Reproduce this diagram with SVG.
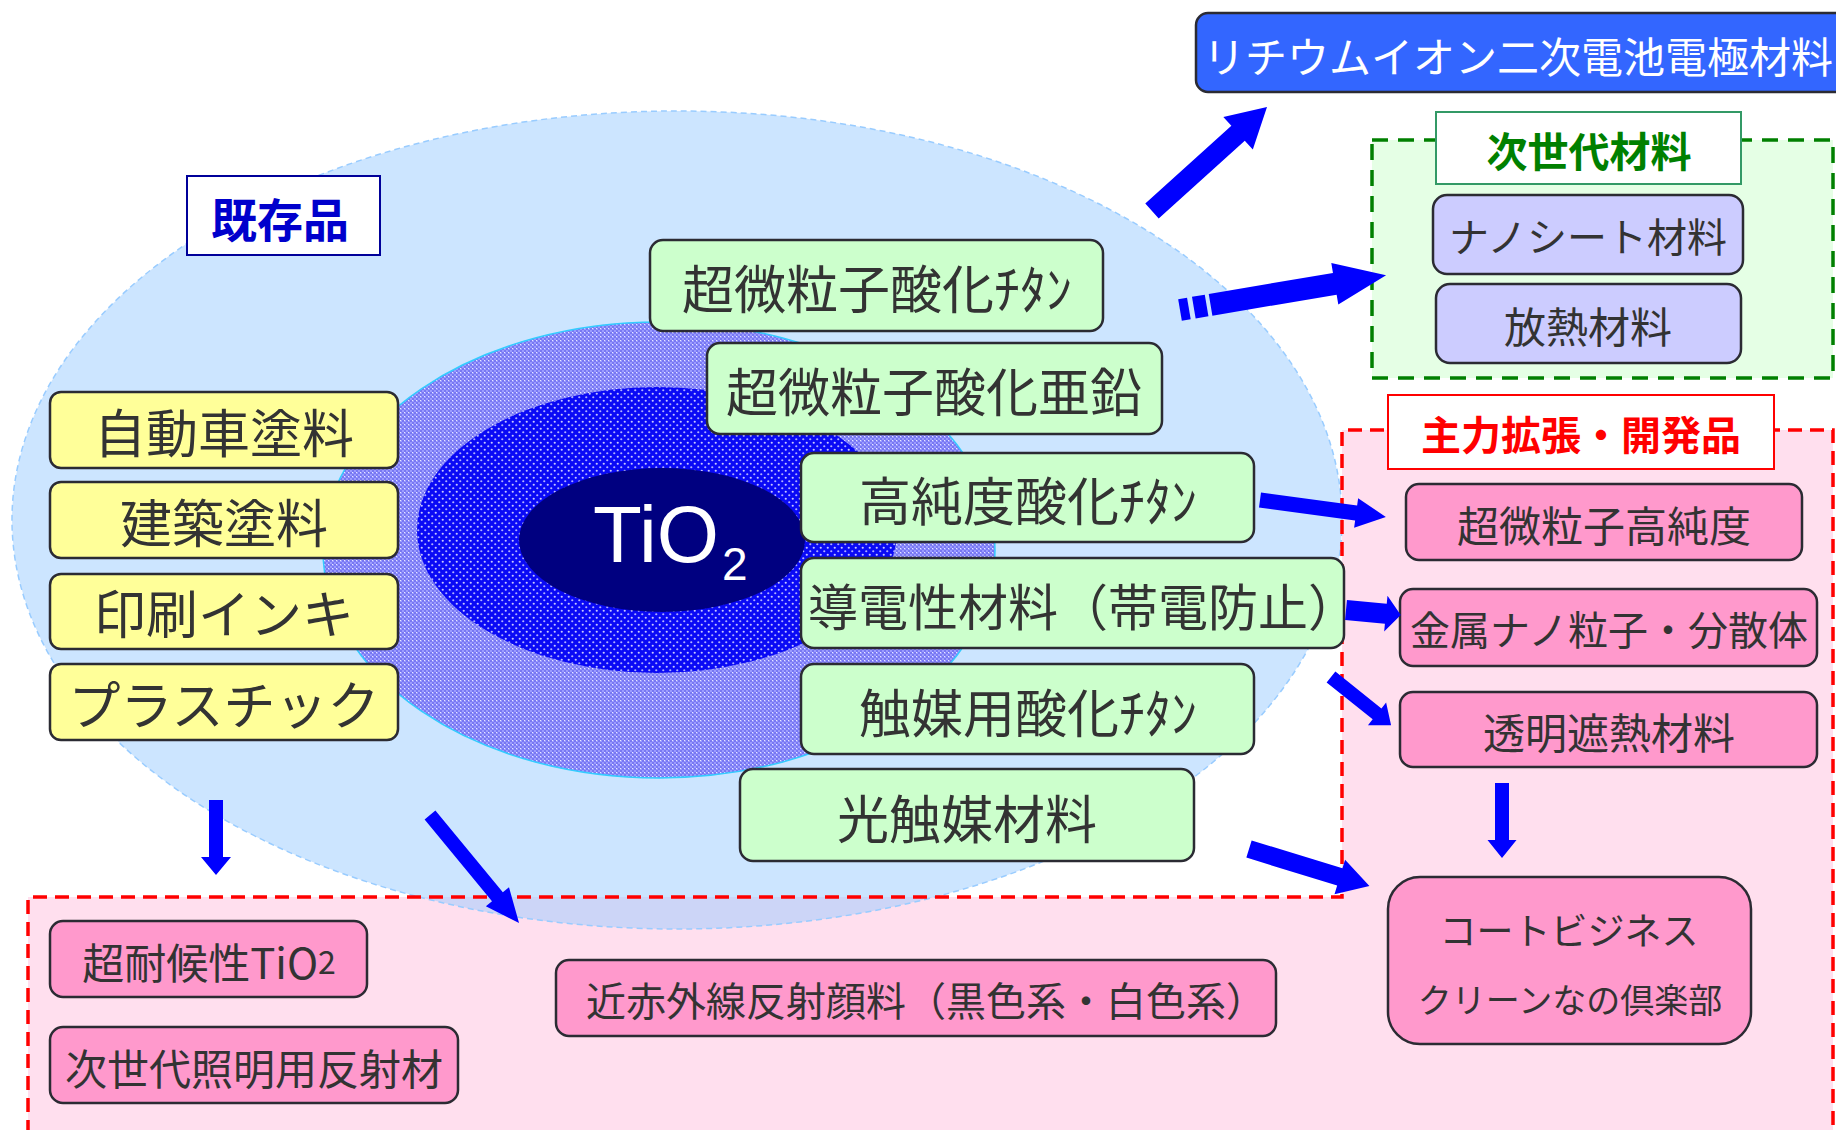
<svg xmlns="http://www.w3.org/2000/svg" width="1836" height="1130" viewBox="0 0 1836 1130">
<defs>
<pattern id="hatchMid" x="0" y="0" width="4" height="4" patternUnits="userSpaceOnUse">
<rect width="4" height="4" fill="#7878f2"/>
<rect x="0" y="0" width="2" height="2" fill="#9c9cff"/>
<rect x="2" y="2" width="2" height="2" fill="#9c9cff"/>
<rect x="0" y="0" width="1" height="1" fill="#e8e8ff"/>
</pattern>
<pattern id="dotsIn" x="0" y="0" width="7" height="7" patternUnits="userSpaceOnUse">
<rect width="7" height="7" fill="#0a0af5"/>
<circle cx="1.75" cy="1.75" r="1.1" fill="#c8c8ff"/>
<circle cx="5.25" cy="5.25" r="1.1" fill="#b0b0ff"/>
</pattern>
<style>
.jp{font-family:"Noto Sans CJK JP","Noto Sans CJK SC",sans-serif;}
.t{fill:#333333;text-anchor:middle;dominant-baseline:central;}
.box{stroke:#2b2b33;stroke-width:2.5;}
.yel{fill:#ffff99;}
.grn{fill:#ccffcc;}
.pnk{fill:#ff99cc;}
.lav{fill:#ccccff;}
.arw{fill:#0000ff;}
</style>
</defs>

<!-- background regions -->
<g id="region-development">
<polygon points="1342,430 1833,430 1833,1134 28,1134 28,897 1342,897" fill="#ffdfee"/>
</g>
<g id="region-existing">
<ellipse cx="677" cy="520" rx="665" ry="409" fill="#99ccff" fill-opacity="0.5" stroke="#99ccff" stroke-width="1.5" stroke-dasharray="6 4"/>
</g>
<g id="core">
<ellipse cx="659" cy="550" rx="336" ry="228" fill="url(#hatchMid)" stroke="#33ccff" stroke-width="1.5"/>
<ellipse cx="657" cy="530" rx="240" ry="143" fill="url(#dotsIn)"/>
<ellipse cx="662" cy="540" rx="143" ry="72" fill="#000080"/>
<text x="593" y="562" font-family="Liberation Sans, Arial, sans-serif" font-size="80" fill="#ffffff">TiO</text>
<text x="722" y="580" font-family="Liberation Sans, Arial, sans-serif" font-size="46" fill="#ffffff">2</text>
</g>
<g id="region-development-outline">
<polyline points="28,1134 28,897 1342,897 1342,430 1833,430 1833,1134" fill="none" stroke="#ff0000" stroke-width="3.5" stroke-dasharray="14 8"/>
</g>
<g id="region-nextgen">
<rect x="1372" y="140" width="461" height="238" fill="#e5ffe5" stroke="#008000" stroke-width="3.5" stroke-dasharray="16 10"/>
</g>

<!-- labels -->
<g id="label-existing">
<rect x="187" y="176" width="193" height="79" fill="#ffffff" stroke="#000099" stroke-width="2"/>
<text class="jp" x="280" y="217" font-size="46" font-weight="bold" fill="#0000cc" text-anchor="middle" dominant-baseline="central">既存品</text>
</g>
<g id="label-nextgen">
<rect x="1436" y="112" width="305" height="72" fill="#ffffff" stroke="#339966" stroke-width="2"/>
<text class="jp" x="1589" y="149" font-size="41" font-weight="bold" fill="#008000" text-anchor="middle" dominant-baseline="central">次世代材料</text>
</g>
<g id="label-development">
<rect x="1388" y="395" width="386" height="74" fill="#ffffff" stroke="#ff0000" stroke-width="2"/>
<text class="jp" x="1581" y="433" font-size="40" font-weight="bold" fill="#ff0000" text-anchor="middle" dominant-baseline="central">主力拡張・開発品</text>
</g>

<!-- existing products -->
<g id="node-automotive-paint">
<rect class="box yel" x="50" y="392" width="348" height="76" rx="11"/>
<text class="jp t" x="224" y="430" font-size="52">自動車塗料</text>
</g>
<g id="node-architectural-paint">
<rect class="box yel" x="50" y="482" width="348" height="76" rx="11"/>
<text class="jp t" x="224" y="520" font-size="52">建築塗料</text>
</g>
<g id="node-printing-ink">
<rect class="box yel" x="50" y="574" width="348" height="75" rx="11"/>
<text class="jp t" x="224" y="611" font-size="52">印刷インキ</text>
</g>
<g id="node-plastic">
<rect class="box yel" x="50" y="664" width="348" height="76" rx="11"/>
<text class="jp t" x="224" y="702" font-size="52">プラスチック</text>
</g>

<!-- core materials -->
<g id="node-ultrafine-tio2">
<rect class="box grn" x="650" y="240" width="453" height="91" rx="13"/>
<text class="jp t" x="877" y="286" font-size="52">超微粒子酸化ﾁﾀﾝ</text>
</g>
<g id="node-ultrafine-zno">
<rect class="box grn" x="707" y="343" width="455" height="91" rx="13"/>
<text class="jp t" x="934" y="389" font-size="52">超微粒子酸化亜鉛</text>
</g>
<g id="node-high-purity-tio2">
<rect class="box grn" x="801" y="453" width="453" height="89" rx="13"/>
<text class="jp t" x="1028" y="498" font-size="52">高純度酸化ﾁﾀﾝ</text>
</g>
<g id="node-conductive">
<rect class="box grn" x="801" y="558" width="543" height="90" rx="13"/>
<text class="jp" x="808" y="604" font-size="50" fill="#333333" dominant-baseline="central">導電性材料（帯電防止）</text>
</g>
<g id="node-catalyst-tio2">
<rect class="box grn" x="801" y="664" width="453" height="90" rx="13"/>
<text class="jp t" x="1028" y="710" font-size="52">触媒用酸化ﾁﾀﾝ</text>
</g>
<g id="node-photocatalyst">
<rect class="box grn" x="740" y="769" width="454" height="92" rx="13"/>
<text class="jp t" x="967" y="816" font-size="52">光触媒材料</text>
</g>

<!-- right side -->
<g id="node-li-ion">
<rect x="1196" y="13" width="660" height="79" rx="12" fill="#3366ff" stroke="#2b2b33" stroke-width="2.5"/>
<text class="jp" x="1518" y="54" font-size="42" fill="#ffffff" text-anchor="middle" dominant-baseline="central">リチウムイオン二次電池電極材料</text>
</g>
<g id="node-nanosheet">
<rect class="box lav" x="1433" y="195" width="310" height="79" rx="14"/>
<text class="jp t" x="1588" y="235" font-size="40">ナノシート材料</text>
</g>
<g id="node-heat-dissipation">
<rect class="box lav" x="1436" y="284" width="305" height="79" rx="14"/>
<text class="jp t" x="1588" y="324" font-size="42">放熱材料</text>
</g>
<g id="node-ultrafine-high-purity">
<rect class="box pnk" x="1406" y="484" width="396" height="76" rx="13"/>
<text class="jp t" x="1604" y="523" font-size="42">超微粒子高純度</text>
</g>
<g id="node-metal-nano">
<rect class="box pnk" x="1400" y="589" width="417" height="77" rx="13"/>
<text class="jp t" x="1609" y="628" font-size="40">金属ナノ粒子・分散体</text>
</g>
<g id="node-transparent-heat">
<rect class="box pnk" x="1400" y="692" width="417" height="75" rx="13"/>
<text class="jp t" x="1609" y="730" font-size="42">透明遮熱材料</text>
</g>
<g id="node-coat-business">
<rect class="box pnk" x="1388" y="877" width="363" height="167" rx="32"/>
<text class="jp t" x="1569" y="929" font-size="37">コートビジネス</text>
<text class="jp t" x="1570" y="998" font-size="34">クリーンなの倶楽部</text>
</g>

<!-- bottom -->
<g id="node-weather-tio2">
<rect class="box pnk" x="50" y="921" width="317" height="76" rx="13"/>
<text class="jp t" x="209" y="960" font-size="42">超耐候性TiO<tspan font-size="32">2</tspan></text>
</g>
<g id="node-lighting-reflector">
<rect class="box pnk" x="50" y="1027" width="408" height="76" rx="13"/>
<text class="jp t" x="254" y="1066" font-size="42">次世代照明用反射材</text>
</g>
<g id="node-nir-pigment">
<rect class="box pnk" x="556" y="960" width="720" height="76" rx="13"/>
<text class="jp" x="586" y="999" font-size="40" fill="#333333" dominant-baseline="central">近赤外線反射顔料（黒色系・白色系）</text>
</g>

<!-- connectors -->
<g id="connectors" class="arw">
<polygon transform="translate(1152,211) rotate(-42.1)" points="0,-10 116,-10 116,-22 155,0 116,22 116,10 0,10"/>
<g transform="translate(1180,310) rotate(-9.6)">
<rect x="0" y="-11" width="9" height="22"/>
<rect x="14" y="-11" width="13" height="22"/>
<polygon points="31,-11 157,-11 157,-21 209,0 157,21 157,11 31,11"/>
</g>
<polygon transform="translate(1260,500) rotate(7.7)" points="0,-7.5 97,-7.5 97,-15 127,0 97,15 97,7.5 0,7.5"/>
<polygon transform="translate(1346,610) rotate(5.3)" points="0,-10 40,-10 40,-18 55,0 40,18 40,10 0,10"/>
<polygon transform="translate(1331,677) rotate(38.7)" points="0,-7 59,-7 59,-14.5 77,0 59,14.5 59,7 0,7"/>
<polygon transform="translate(1249,849) rotate(17.1)" points="0,-9 95,-9 95,-18 126,0 95,18 95,9 0,9"/>
<polygon transform="translate(1502,783) rotate(90)" points="0,-7 57,-7 57,-14.5 75,0 57,14.5 57,7 0,7"/>
<polygon transform="translate(216,800) rotate(90)" points="0,-7 57,-7 57,-15 75,0 57,15 57,7 0,7"/>
<polygon transform="translate(430,815) rotate(50.5)" points="0,-7 106,-7 106,-15 140,0 106,15 106,7 0,7"/>
</g>
</svg>
